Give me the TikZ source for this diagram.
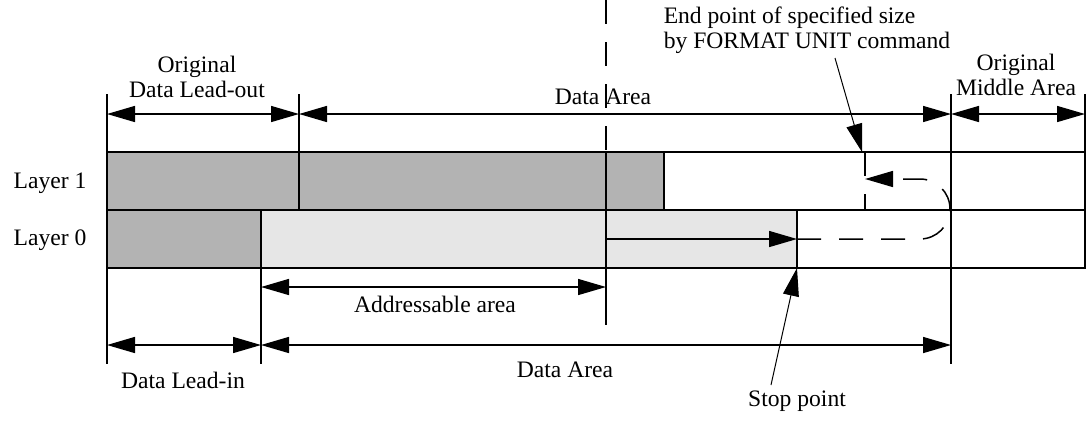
\documentclass[tikz,border=0pt]{standalone}
\usepackage{fontspec}
\setmainfont{Liberation Serif}
\usetikzlibrary{arrows.meta}
\definecolor{darkfill}{RGB}{179,179,179}
\definecolor{lightfill}{RGB}{230,230,230}
\begin{document}
\begin{tikzpicture}[x=0.5pt,y=-0.5pt,line width=0.75pt,
  >={Triangle[length=14pt,width=8pt]},
  dim/.style={<->},
  one/.style={->},
  thin arrow/.style={->,line width=0.5pt},
  dsh/.style={dash pattern=on 12pt off 9pt},
  lbl/.style={font=\fontsize{11.8}{12.5}\selectfont,inner sep=0pt,align=center}]
\useasboundingbox (0,0) rectangle (1087,435);

% layer fills
\fill[darkfill] (107,152) rectangle (664,210);
\fill[darkfill] (107,210) rectangle (261,268);
\fill[lightfill] (261,210) rectangle (797,268);
\draw (107,152) rectangle (1085,268);
\draw (107,210) -- (1085,210);

% extension / division lines
\draw (107,94) -- (107,364);
\draw (299,94) -- (299,210);
\draw (951,94) -- (951,364);
\draw (1085,94) -- (1085,152);
\draw (261,210) -- (261,364);
\draw (606,152) -- (606,325);
\draw (664,152) -- (664,210);
\draw (797,210) -- (797,268);
\draw[dsh] (606,0) -- (606,152);
\draw[dsh] (865,152) -- (865,210);

% coordinates
\coordinate (t107) at (107,114);
\coordinate (t299) at (299,114);
\coordinate (t951) at (951,114);
\coordinate (t1085) at (1085,114);
\coordinate (a261) at (261,287);
\coordinate (a606) at (606,287);
\coordinate (b107) at (107,345);
\coordinate (b261) at (261,345);
\coordinate (b951) at (951,345);
\coordinate (l0a) at (606,239);
\coordinate (l0b) at (797,239);
\coordinate (l1b) at (865,179);
\coordinate (endfrom) at (835,58);
\coordinate (endpt) at (862,152);
\coordinate (stopfrom) at (771,385);
\coordinate (stoppt) at (797,268);

% dimension arrows
\draw[dim] (t107) -- (t299);
\draw[dim] (t299) -- (t951);
\draw[dim] (t951) -- (t1085);
\draw[dim] (a261) -- (a606);
\draw[dim] (b107) -- (b261);
\draw[dim] (b261) -- (b951);

% recording path
\draw[one] (l0a) -- (l0b);
\draw[one,dsh,rounded corners=15pt] (l0b) -- (950,239) -- (950,179) -- (l1b);

% pointer arrows
\draw[thin arrow] (endfrom) -- (endpt);
\draw[thin arrow] (stopfrom) -- (stoppt);

% labels
\node[lbl] (lo) at (197,77) {Original\\Data Lead-out};
\node[lbl] (datop) at (603,97) {Data Area};
\node[lbl] (mid) at (1016,75) {Original\\Middle Area};
\node[lbl,anchor=west,align=left] (endlbl) at (663,30) {End point of specified size\\by FORMAT UNIT command};
\node[lbl] (l1) at (50,183) {Layer 1};
\node[lbl] (l0) at (50,240) {Layer 0};
\node[lbl] (addr) at (435,304) {Addressable area};
\node[lbl] (leadin) at (183,380) {Data Lead-in};
\node[lbl] (dabot) at (565,370) {Data Area};
\node[lbl] (stop) at (797,401) {Stop point};
\end{tikzpicture}
\end{document}
